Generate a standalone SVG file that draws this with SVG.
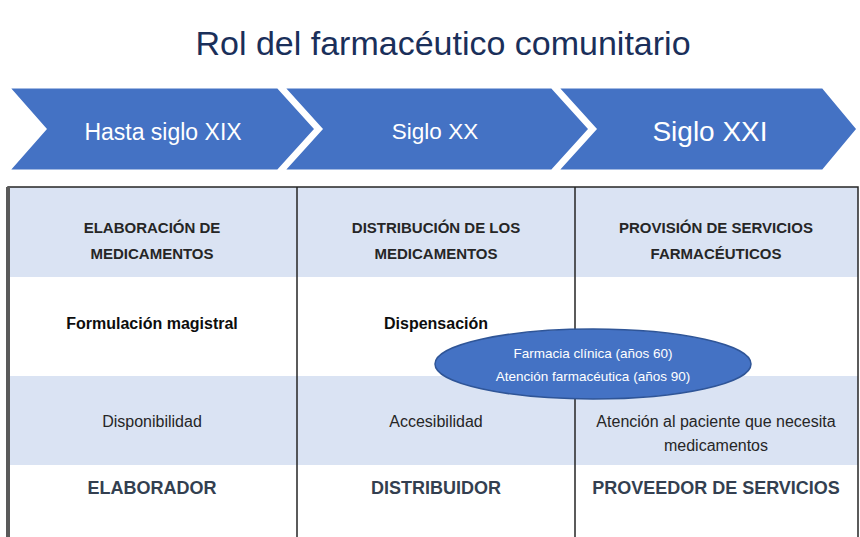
<svg xmlns="http://www.w3.org/2000/svg" width="860" height="537" viewBox="0 0 860 537">
<style>
  .chev { fill: #4472c4; stroke: #ffffff; stroke-width: 3; }
  .chevtxt { font-family: "Liberation Sans", Arial, sans-serif; fill: #ffffff; text-anchor: middle; }
  .blue { fill: #dae3f3; }
  .white { fill: #ffffff; }
  .grid { stroke: #262626; stroke-width: 1.5; fill: none; }
  .hdr { font-family: "Liberation Sans", Arial, sans-serif; font-weight: bold; font-size: 15px; fill: #262626; text-anchor: middle; }
  .bold { font-family: "Liberation Sans", Arial, sans-serif; font-weight: bold; font-size: 16px; fill: #0d0d0d; text-anchor: middle; }
  .reg { font-family: "Liberation Sans", Arial, sans-serif; font-size: 16px; fill: #262626; text-anchor: middle; }
  .role { font-family: "Liberation Sans", Arial, sans-serif; font-weight: bold; font-size: 18px; fill: #333f50; text-anchor: middle; }
  .ell { fill: #4472c4; stroke: #2f5597; stroke-width: 1.5; }
  .elltxt { font-family: "Liberation Sans", Arial, sans-serif; font-size: 13.5px; fill: #ffffff; text-anchor: middle; }
</style>
<rect width="860" height="537" fill="#ffffff"/>
<text x="443" y="55" font-family="Liberation Sans, Arial, sans-serif" font-size="34" fill="#1a2f5a" text-anchor="middle">Rol del farmacéutico comunitario</text>

<g id="chevron-1">
  <polygon class="chev" points="8,87 278,87 316,129 278,171 8,171 45,129"/>
  <text class="chevtxt" x="163" y="140" font-size="23">Hasta siglo XIX</text>
</g>
<g id="chevron-2">
  <polygon class="chev" points="283,87 552,87 590,129 552,171 283,171 321,129"/>
  <text class="chevtxt" x="435" y="139" font-size="22.5">Siglo XX</text>
</g>
<g id="chevron-3">
  <polygon class="chev" points="557,87 823,87 858,129 823,171 557,171 595,129"/>
  <text class="chevtxt" x="710" y="141" font-size="28">Siglo XXI</text>
</g>

<g id="table">
  <rect class="blue" x="8" y="187" width="850" height="90"/>
  <rect class="white" x="8" y="277" width="850" height="99"/>
  <rect class="blue" x="8" y="376" width="850" height="89"/>
  <rect class="white" x="8" y="465" width="850" height="80"/>
  <path class="grid" d="M8,540 V187 H858 V540 M297,187 V540 M575,187 V540"/>
  <line x1="8" y1="187" x2="8" y2="540" stroke="#5a5a5a" stroke-width="4"/>
</g>

<g id="col-1">
  <text class="hdr" x="152" y="233">ELABORACIÓN DE</text>
  <text class="hdr" x="152" y="259">MEDICAMENTOS</text>
  <text class="bold" x="152" y="329">Formulación magistral</text>
  <text class="reg" x="152" y="427">Disponibilidad</text>
  <text class="role" x="152" y="494">ELABORADOR</text>
</g>
<g id="col-2">
  <text class="hdr" x="436" y="233">DISTRIBUCIÓN DE LOS</text>
  <text class="hdr" x="436" y="259">MEDICAMENTOS</text>
  <text class="bold" x="436" y="329">Dispensación</text>
  <text class="reg" x="436" y="427">Accesibilidad</text>
  <text class="role" x="436" y="494">DISTRIBUIDOR</text>
</g>
<g id="col-3">
  <text class="hdr" x="716" y="233">PROVISIÓN DE SERVICIOS</text>
  <text class="hdr" x="716" y="259">FARMACÉUTICOS</text>
  <text class="reg" x="716" y="427">Atención al paciente que necesita</text>
  <text class="reg" x="716" y="451">medicamentos</text>
  <text class="role" x="716" y="494">PROVEEDOR DE SERVICIOS</text>
</g>

<g id="ellipse">
  <ellipse class="ell" cx="593" cy="364" rx="158" ry="35"/>
  <text class="elltxt" x="593" y="358">Farmacia clínica (años 60)</text>
  <text class="elltxt" x="593" y="381">Atención farmacéutica (años 90)</text>
</g>
</svg>
